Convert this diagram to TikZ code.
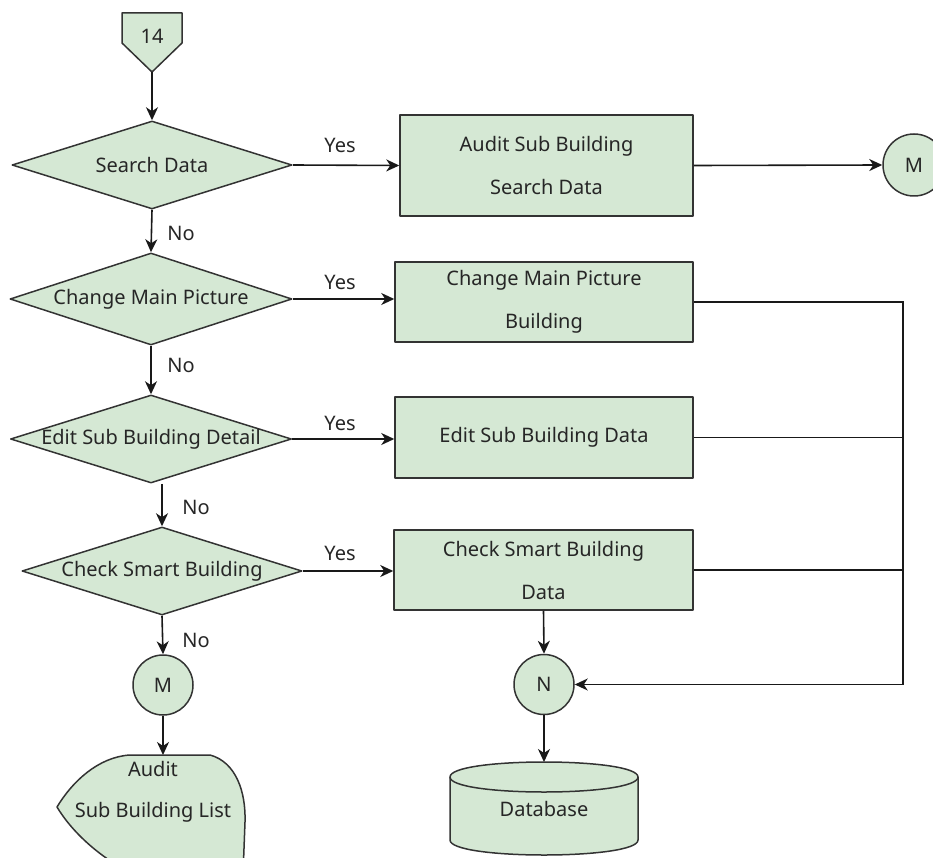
\documentclass[tikz,border=0pt]{standalone}
\usepackage{fontspec}
\setmainfont{Noto Sans}
\usetikzlibrary{shapes.geometric,arrows.meta}
\definecolor{gfill}{HTML}{D5E8D4}
\definecolor{gline}{HTML}{333333}
\begin{document}
\begin{tikzpicture}[x=1pt,y=-1pt,
  every node/.style={font=\fontsize{20}{24}\selectfont, text=black!85},
  shp/.style={draw=gline, fill=gfill, line width=1.5pt, line join=round},
  dec/.style={shp, diamond, inner sep=0pt},
  box/.style={shp, rectangle, inner sep=0pt, align=center, font=\fontsize{20}{43}\selectfont},
  conn/.style={shp, circle, inner sep=0pt},
  flow/.style={line width=1.6pt, draw=black!90},
  arr/.style={flow, -{Stealth[length=13pt,width=12pt,inset=4pt]}},
  lbl/.style={inner sep=0pt}]
\useasboundingbox (0,0) rectangle (933,858);

% off-page connector 14
\filldraw[shp] (122,13) -- (182,13) -- (182,43) -- (152,72) -- (122,43) -- cycle;
\node[lbl] (t14) at (152,36) {14};
\coordinate (p14) at (152,72);

% decisions
\node[dec, minimum width=280pt, minimum height=88pt] (d1) at (152,165) {};
\node[lbl] (t1) at (d1) {Search Data};
\node[dec, minimum width=282pt, minimum height=92pt] (d2) at (151,299) {};
\node[lbl] (t2) at (d2) {Change Main Picture};
\node[dec, minimum width=281pt, minimum height=88pt] (d3) at (151,439) {};
\node[lbl] (t3) at (d3) {Edit Sub Building Detail};
\node[dec, minimum width=280pt, minimum height=88pt] (d4) at (162,571) {};
\node[lbl] (t4) at (d4) {Check Smart Building};

% processes
\node[box, minimum width=293pt, minimum height=101pt] (b1) at (546.5,165.5) {Audit Sub Building\\Search Data};
\node[box, minimum width=298pt, minimum height=80pt] (b2) at (544,302) {Change Main Picture\\Building};
\node[box, minimum width=298pt, minimum height=81pt] (b3) at (544,437.5) {Edit Sub Building Data};
\node[box, minimum width=299pt, minimum height=80pt] (b4) at (543.5,570) {Check Smart Building\\Data};

% connectors
\node[conn, minimum size=62pt] (mR) at (914,165) {M};
\node[conn, minimum size=60pt] (mL) at (163,685) {M};
\node[conn, minimum size=60pt] (N) at (544,684.5) {N};

% display shape
\filldraw[shp] (130,755) -- (210,755) .. controls (236,762) and (246,792) .. (245,822) -- (243,875)
  -- (135,875) .. controls (100,858) and (72,832) .. (57,807)
  .. controls (72,782) and (98,757) .. (130,755) -- cycle;
\node[lbl, align=center, font=\fontsize{20}{41}\selectfont] (disp) at (153,792) {Audit\\Sub Building List};
\coordinate (dtop) at (163,755);

% database
\filldraw[shp] (450,777) -- (450,840) .. controls (450,860) and (638,860) .. (638,840)
  -- (638,777) .. controls (638,757) and (450,757) .. (450,777) -- cycle;
\draw[shp, fill=none] (450,777) .. controls (450,797) and (638,797) .. (638,777);
\node[lbl] (db) at (544,809) {Database};
\coordinate (dbtop) at (544,762);

\coordinate (bus) at (903,684.5);

% flows
\draw[arr] (p14) -- (d1.north);
\draw[arr] (d1.east) -- (b1.west);
\draw[arr] (b1.east) -- (mR.west);
\draw[arr] (d1.south) -- (d2.north);
\draw[arr] (d2.east) -- (d2.east -| b2.west);
\draw[arr] (d2.south) -- (d3.north);
\draw[arr] (d3.east) -- (d3.east -| b3.west);
\draw[arr] (d3.south -| d4.north) -- (d4.north);
\draw[arr] (d4.east) -- (d4.east -| b4.west);
\draw[arr] (d4.south) -- (mL.north);
\draw[arr] (mL.south) -- (dtop);
\draw[arr] (b4.south) -- (N.north);
\draw[flow] (b2.east) -| (bus);
\draw[flow] (b3.east) -- (b3.east -| bus);
\draw[flow] (b4.east) -- (b4.east -| bus);
\draw[arr] (bus) -- (N.east);
\draw[arr] (N.south) -- (dbtop);

% labels
\node[lbl] (y1) at (340,145) {Yes};
\node[lbl] (y2) at (340,282) {Yes};
\node[lbl] (y3) at (340,423) {Yes};
\node[lbl] (y4) at (340,553) {Yes};
\node[lbl] (n1) at (181,233) {No};
\node[lbl] (n2) at (181,365) {No};
\node[lbl] (n3) at (196,507) {No};
\node[lbl] (n4) at (196,640) {No};
\end{tikzpicture}
\end{document}
